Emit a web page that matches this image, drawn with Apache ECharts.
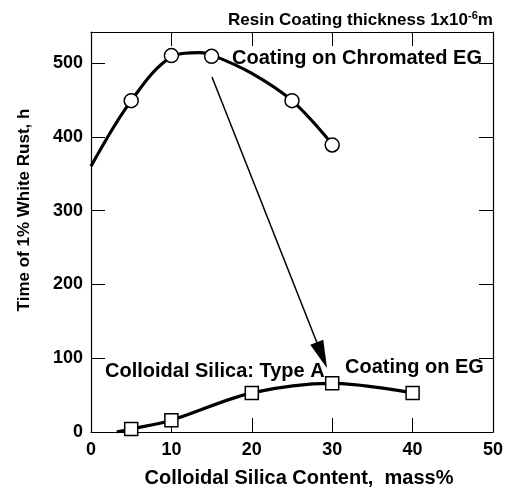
<!DOCTYPE html>
<html><head><meta charset="utf-8">
<script src="https://cdn.jsdelivr.net/npm/echarts@6/dist/echarts.min.js"></script>
<style>html,body{margin:0;padding:0;background:#fff}#c{width:511px;height:491px}</style>
</head><body><div id="c"></div>
<script>
// Data
var chromX = [5, 10, 15, 25, 30];
var chromY = [449, 510, 509, 449, 389];
var chromCurveX = [0, 5, 10, 13.5, 15, 20, 25, 30];
var chromCurveY = [360, 449, 508, 514, 511, 486, 449, 390];
var egX = [5, 10, 20, 30, 40];
var egY = [4, 16, 53, 66, 53];
var egCurveX = [3.2, 5, 10, 20, 30, 40];
var egCurveY = [0, 4, 16, 53, 66, 53];
var arrowFrom = [15.05, 481];
var arrowTo = [28.72, 104];
var xTicks = [0, 10, 20, 30, 40, 50];
var yTicks = [0, 100, 200, 300, 400, 500];

function pairs(xs, ys) { return xs.map(function (x, i) { return [x, ys[i]]; }); }

var F = '"Liberation Sans", Arial, sans-serif';
var chart = echarts.init(document.getElementById('c'));
var tickStyle = { show: true, inside: true, length: 14, lineStyle: { color: '#000', width: 1 } };
var lineStyle = { show: true, onZero: false, lineStyle: { color: '#000', width: 1.2 } };
chart.setOption({
  animation: false,
  backgroundColor: '#fff',
  grid: { left: 91, right: 18, top: 32, bottom: 59, containLabel: false },
  xAxis: [{
    type: 'value', min: xTicks[0], max: xTicks[xTicks.length - 1], interval: 10, position: 'bottom',
    axisLine: lineStyle, axisTick: tickStyle, splitLine: { show: false },
    axisLabel: { color: '#000', fontFamily: F, fontWeight: 'bold', fontSize: 18, margin: 9 }
  }, {
    type: 'value', min: xTicks[0], max: xTicks[xTicks.length - 1], interval: 10, position: 'top',
    axisLine: lineStyle, axisTick: tickStyle, axisLabel: { show: false }, splitLine: { show: false }
  }],
  yAxis: [{
    type: 'value', min: yTicks[0], max: 542, interval: 100, position: 'left',
    axisLine: lineStyle, axisTick: tickStyle, splitLine: { show: false },
    axisLabel: { color: '#000', fontFamily: F, fontWeight: 'bold', fontSize: 18, margin: 8,
      formatter: function (v) { return yTicks.indexOf(v) >= 0 ? String(v) : ''; } }
  }, {
    type: 'value', min: yTicks[0], max: 542, interval: 100, position: 'right',
    axisLine: lineStyle, axisTick: tickStyle, axisLabel: { show: false }, splitLine: { show: false }
  }],
  graphic: [
    { type: 'text', left: 228, top: 10, style: {
      rich: {
        a: { fontFamily: F, fontWeight: 'bold', fontSize: 17, fill: '#000' },
        s: { fontFamily: F, fontWeight: 'bold', fontSize: 11, fill: '#000', verticalAlign: 'top', padding: [0, 0, 10, 0] }
      },
      text: '{a|Resin Coating thickness 1x10}{s|-6}{a|m}' } },
    { type: 'text', left: 232, top: 48, style: { text: 'Coating on Chromated EG', fontFamily: F, fontWeight: 'bold', fontSize: 20, fill: '#000' } },
    { type: 'text', left: 105, top: 361, style: { text: 'Colloidal Silica: Type A', fontFamily: F, fontWeight: 'bold', fontSize: 20, fill: '#000' } },
    { type: 'text', left: 345, top: 357, style: { text: 'Coating on EG', fontFamily: F, fontWeight: 'bold', fontSize: 20, fill: '#000' } },
    { type: 'text', x: 299, y: 478, style: { text: 'Colloidal Silica Content,  mass%', fontFamily: F, fontWeight: 'bold', fontSize: 20, fill: '#000', align: 'center', verticalAlign: 'middle' } },
    { type: 'text', x: 24, y: 210, rotation: Math.PI / 2, style: { text: 'Time of 1% White Rust, h', fontFamily: F, fontWeight: 'bold', fontSize: 17, fill: '#000', align: 'center', verticalAlign: 'middle' } }
  ],
  series: [
    { type: 'line', smooth: 0.35, showSymbol: false, data: pairs(chromCurveX, chromCurveY),
      lineStyle: { color: '#000', width: 3.2 }, z: 2,
      markLine: { silent: true, symbol: ['none', 'triangle'], symbolSize: [14, 28],
        lineStyle: { color: '#000', width: 1.5, type: 'solid' }, label: { show: false },
        data: [[{ coord: arrowFrom }, { coord: arrowTo }]] } },
    { type: 'line', smooth: 0.35, showSymbol: false, data: pairs(egCurveX, egCurveY),
      lineStyle: { color: '#000', width: 3.2 }, z: 2 },
    { type: 'scatter', symbol: 'circle', symbolSize: 14, data: pairs(chromX, chromY),
      itemStyle: { color: '#fff', borderColor: '#000', borderWidth: 1.5, opacity: 1 }, z: 3 },
    { type: 'scatter', symbol: 'rect', symbolSize: 13, data: pairs(egX, egY),
      itemStyle: { color: '#fff', borderColor: '#000', borderWidth: 1.5, opacity: 1 }, z: 3 }
  ]
});
</script></body></html>
